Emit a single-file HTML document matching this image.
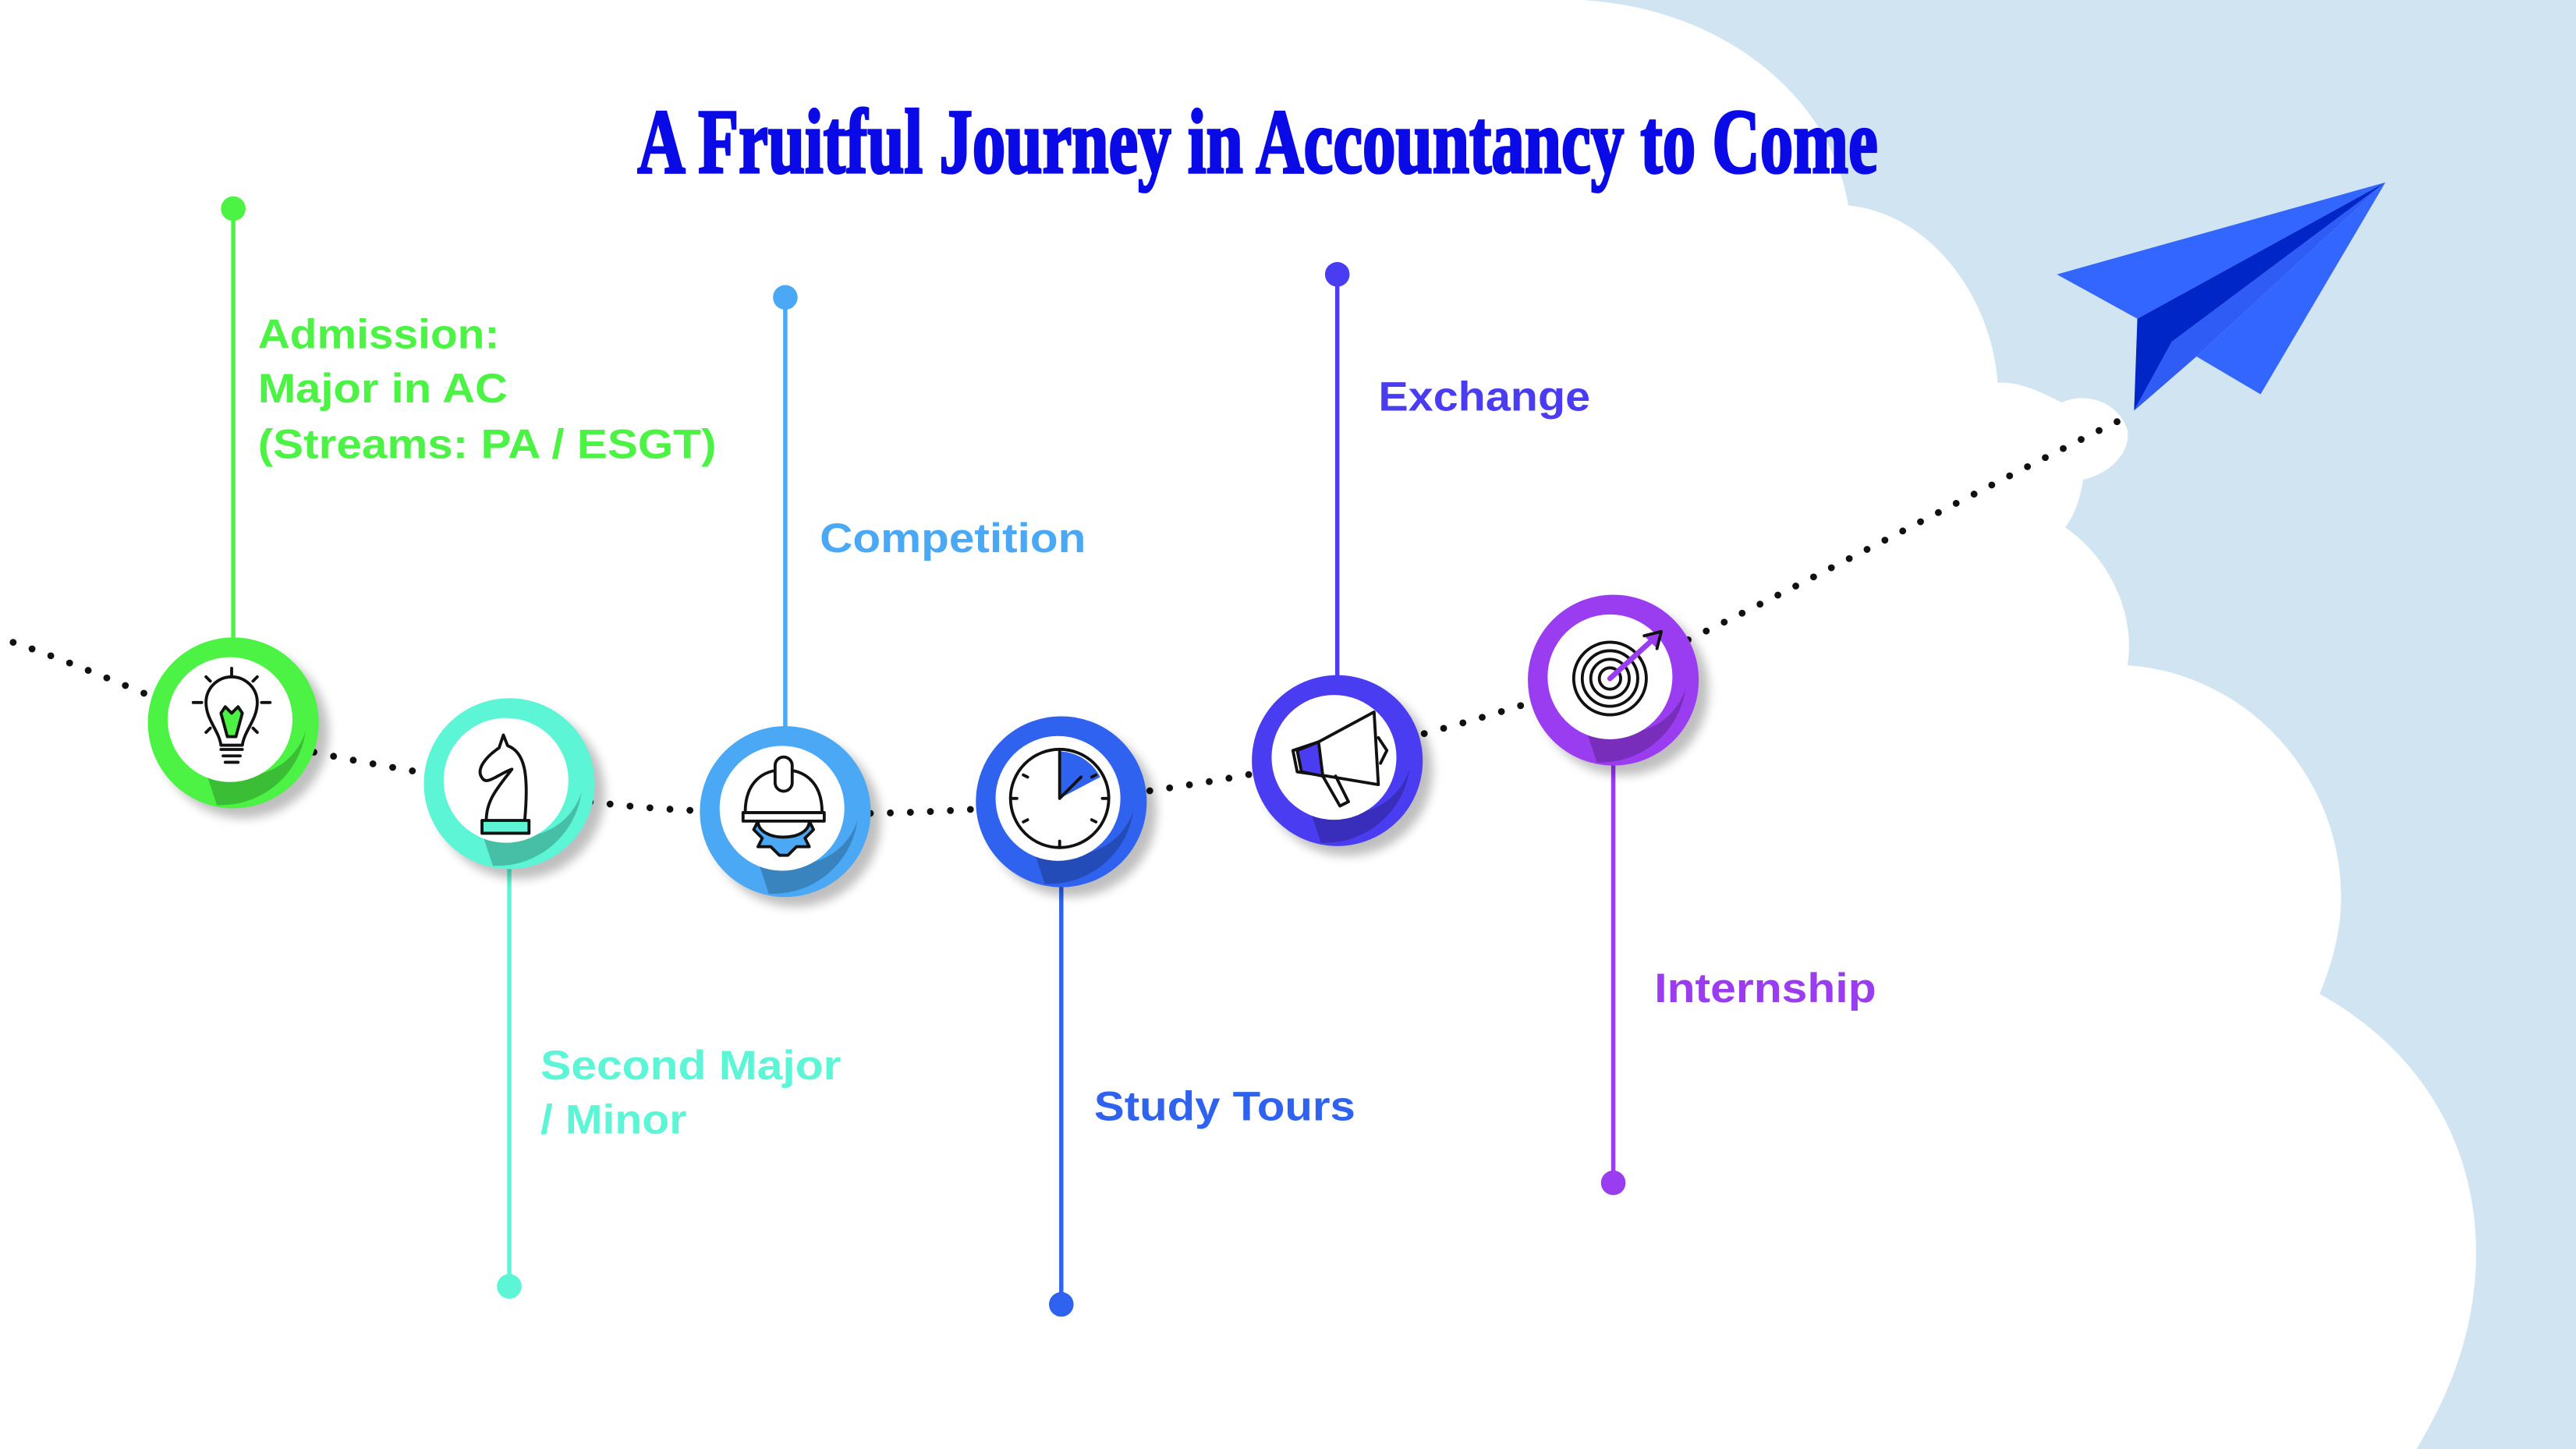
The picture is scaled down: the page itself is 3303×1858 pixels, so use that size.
<!DOCTYPE html>
<html><head><meta charset="utf-8"><style>html,body{margin:0;padding:0;background:#fff}svg{display:block}</style></head>
<body>
<svg width="3303" height="1858" viewBox="0 0 1568 882" xmlns="http://www.w3.org/2000/svg">
<defs>
<filter id="sh" x="-50%" y="-50%" width="200%" height="200%"><feGaussianBlur stdDeviation="3"/></filter>
</defs>
<rect width="1568" height="882" fill="#d1e4f2"/>
<path fill="#fff" d="M0,0 L963,0 C1050,5 1115,60 1125,125 C1175,130 1212,180 1216,233 C1230,232 1245,240 1255,245 C1270,238 1290,245 1295,262 C1297,275 1285,288 1268,292 C1266,305 1262,315 1257,321 C1285,340 1300,375 1295,405 C1370,410 1425,475 1425,546 C1425,570 1418,590 1412,605 C1475,640 1510,700 1507,771 C1505,815 1490,850 1471,882 L0,882 Z"/>
<!-- plane -->
<polygon points="1252,167 1452,111 1301,194" fill="#3366ff"/>
<polygon points="1301,194 1452,111 1322,208 1299,250" fill="#0026c8"/>
<polygon points="1299,250 1322,208 1452,111 1337,217" fill="#2f5cf5"/>
<polygon points="1337,217 1452,111 1376,240" fill="#3366ff"/>
<!-- title -->
<text x="388" y="105" font-family="Liberation Serif, serif" font-weight="bold" font-size="56" fill="#0a0ae6" stroke="#0a0ae6" stroke-width="1.6" textLength="755" lengthAdjust="spacingAndGlyphs">A Fruitful Journey in Accountancy to Come</text>
<!-- dotted path -->
<path d="M8,391 C50,405 100,428 142,444 S250,468 310,480 S420,494 478,495 S590,494 646,488 S760,473 814,460 S930,430 982,410 S1200,300 1290,256" fill="none" stroke="#111" stroke-width="4.2" stroke-linecap="round" stroke-dasharray="0 12.2"/>
<!-- stems -->
<g stroke-width="2.6">
<line x1="142" y1="127" x2="142" y2="440" stroke="#4cf244"/>
<line x1="310" y1="477" x2="310" y2="783" stroke="#5cf5d6"/>
<line x1="478" y1="181" x2="478" y2="494" stroke="#4aa8f5"/>
<line x1="646" y1="488" x2="646" y2="794" stroke="#2f62ee"/>
<line x1="814" y1="167" x2="814" y2="463" stroke="#4a3cf0"/>
<line x1="982" y1="414" x2="982" y2="720" stroke="#9a3cf0"/>
</g>
<circle cx="142" cy="127" r="7.5" fill="#4cf244"/>
<circle cx="310" cy="783" r="7.5" fill="#5cf5d6"/>
<circle cx="478" cy="181" r="7.5" fill="#4aa8f5"/>
<circle cx="646" cy="794" r="7.5" fill="#2f62ee"/>
<circle cx="814" cy="167" r="7.5" fill="#4a3cf0"/>
<circle cx="982" cy="720" r="7.5" fill="#9a3cf0"/>
<!-- nodes -->
<g>
<g transform="translate(142,440)">
 <circle cx="6" cy="6" r="52" fill="#000" opacity=".25" filter="url(#sh)"/>
 <circle r="52" fill="#4cf244"/>
 <path d="M-20,20 A38,38 0 0 0 44,5 A52,52 0 0 1 -10,50 Z" fill="#000" opacity=".22"/>
 <circle cx="-2" cy="-2" r="38" fill="#fff"/>
</g>
<g transform="translate(310,477)">
 <circle cx="6" cy="6" r="52" fill="#000" opacity=".25" filter="url(#sh)"/>
 <circle r="52" fill="#5cf5d6"/>
 <path d="M-20,20 A38,38 0 0 0 44,5 A52,52 0 0 1 -10,50 Z" fill="#000" opacity=".22"/>
 <circle cx="-2" cy="-2" r="38" fill="#fff"/>
</g>
<g transform="translate(478,494)">
 <circle cx="6" cy="6" r="52" fill="#000" opacity=".25" filter="url(#sh)"/>
 <circle r="52" fill="#4aa8f5"/>
 <path d="M-20,20 A38,38 0 0 0 44,5 A52,52 0 0 1 -10,50 Z" fill="#000" opacity=".22"/>
 <circle cx="-2" cy="-2" r="38" fill="#fff"/>
</g>
<g transform="translate(646,488)">
 <circle cx="6" cy="6" r="52" fill="#000" opacity=".25" filter="url(#sh)"/>
 <circle r="52" fill="#2f62ee"/>
 <path d="M-20,20 A38,38 0 0 0 44,5 A52,52 0 0 1 -10,50 Z" fill="#000" opacity=".22"/>
 <circle cx="-2" cy="-2" r="38" fill="#fff"/>
</g>
<g transform="translate(814,463)">
 <circle cx="6" cy="6" r="52" fill="#000" opacity=".25" filter="url(#sh)"/>
 <circle r="52" fill="#4a3cf0"/>
 <path d="M-20,20 A38,38 0 0 0 44,5 A52,52 0 0 1 -10,50 Z" fill="#000" opacity=".22"/>
 <circle cx="-2" cy="-2" r="38" fill="#fff"/>
</g>
<g transform="translate(982,414)">
 <circle cx="6" cy="6" r="52" fill="#000" opacity=".25" filter="url(#sh)"/>
 <circle r="52" fill="#9a3cf0"/>
 <path d="M-20,20 A38,38 0 0 0 44,5 A52,52 0 0 1 -10,50 Z" fill="#000" opacity=".22"/>
 <circle cx="-2" cy="-2" r="38" fill="#fff"/>
</g>
</g>
<!-- icons -->
<g fill="none" stroke="#111" stroke-width="1.4" stroke-linecap="round" stroke-linejoin="round">
 <g transform="translate(141,438) scale(1.3)">
  <path d="M-5,12 C-6,5 -12,0 -12,-8 A12,12 0 0 1 12,-8 C12,0 6,5 5,12 Z"/>
  <path d="M-5,-3 L-3,-6 L0,-3 L3,-6 L5,-3 L2,8 L-2,8 Z" fill="#4cf244"/>
  <path d="M-5,14 H5 M-4,17 H4 M-3,20 H3"/>
  <path d="M0,-24 V-20 M-14,-8 H-18 M14,-8 H18 M-10,-18 L-12,-20 M10,-18 L12,-20 M-10,4 L-12,6 M10,4 L12,6"/>
 </g>
 <g transform="translate(309,476) scale(1.3)">
  <path d="M-10,18 C-10,8 -4,2 2,-6 C-4,-4 -10,2 -12,-2 C-15,-6 -10,-12 -4,-16 L-2,-22 L0,-17 C8,-14 10,-4 8,18"/>
  <rect x="-12" y="18" width="22" height="6" fill="#5cf5d6"/>
 </g>
 <g transform="translate(477,492) scale(1.3)">
  <path d="M-18,2 C-18,-12 -10,-18 0,-18 C10,-18 18,-12 18,2 Z"/>
  <rect x="-4" y="-24" width="8" height="16" rx="4" fill="#fff"/>
  <path d="M-19,2 H19 V6 H-19 Z"/>
  <path d="M-12,6 C-12,16 12,16 12,6 L14,10 L10,14 L12,18 L6,18 L2,22 L-2,22 L-6,18 L-12,18 L-10,14 L-14,10 Z" fill="#4aa8f5"/>
 </g>
 <g transform="translate(645,486) scale(1.3)">
  <circle r="23"/>
  <path d="M0,0 V-22 A22,22 0 0 1 19,-10 Z" fill="#2f62ee" stroke="none"/>
  <path d="M0,0 V-22 M0,0 L10,-10 M0,20 V23 M-20,0 H-23 M20,0 H23 M-17,-11 L-15,-10 M17,11 L15,10 M-17,11 L-15,10 M17,-11 L15,-10"/>
 </g>
 <g transform="translate(813,462) scale(1.3)">
  <path d="M-20,-4 L-8,-8 L18,-22 L20,12 L-4,8 L-18,6 Z" fill="#fff"/>
  <path d="M-18,-4 L-8,-8 L-6,8 L-16,6 Z" fill="#4a3cf0"/>
  <path d="M-6,8 L2,22 L6,20 L0,8"/>
  <path d="M20,-10 L24,-4 L21,2"/>
 </g>
 <g transform="translate(980,413) scale(1.3)">
  <circle r="17"/><circle r="13"/><circle r="9"/><circle r="5"/>
  <path d="M0,0 L22,-20" stroke="#9a3cf0" stroke-width="2.5"/>
  <path d="M16,-20 L24,-22 L22,-14" fill="#9a3cf0"/>
 </g>
</g>
<!-- labels -->
<g font-family="Liberation Sans, Arial, sans-serif" font-weight="bold" font-size="25">
 <g fill="#4cf244">
  <text x="157" y="212" textLength="147" lengthAdjust="spacingAndGlyphs">Admission:</text>
  <text x="157" y="245" textLength="152" lengthAdjust="spacingAndGlyphs">Major in AC</text>
  <text x="157" y="279" textLength="279" lengthAdjust="spacingAndGlyphs">(Streams: PA / ESGT)</text>
 </g>
 <text x="499" y="336" fill="#4aa8f5" textLength="162" lengthAdjust="spacingAndGlyphs">Competition</text>
 <text x="839" y="250" fill="#4a3cf0" textLength="129" lengthAdjust="spacingAndGlyphs">Exchange</text>
 <text x="329" y="657" fill="#5cf5d6" textLength="183" lengthAdjust="spacingAndGlyphs">Second Major</text>
 <text x="329" y="690" fill="#5cf5d6" textLength="89" lengthAdjust="spacingAndGlyphs">/ Minor</text>
 <text x="666" y="682" fill="#2f62ee" textLength="159" lengthAdjust="spacingAndGlyphs">Study Tours</text>
 <text x="1007" y="610" fill="#9a3cf0" textLength="135" lengthAdjust="spacingAndGlyphs">Internship</text>
</g>
</svg>
</body></html>
